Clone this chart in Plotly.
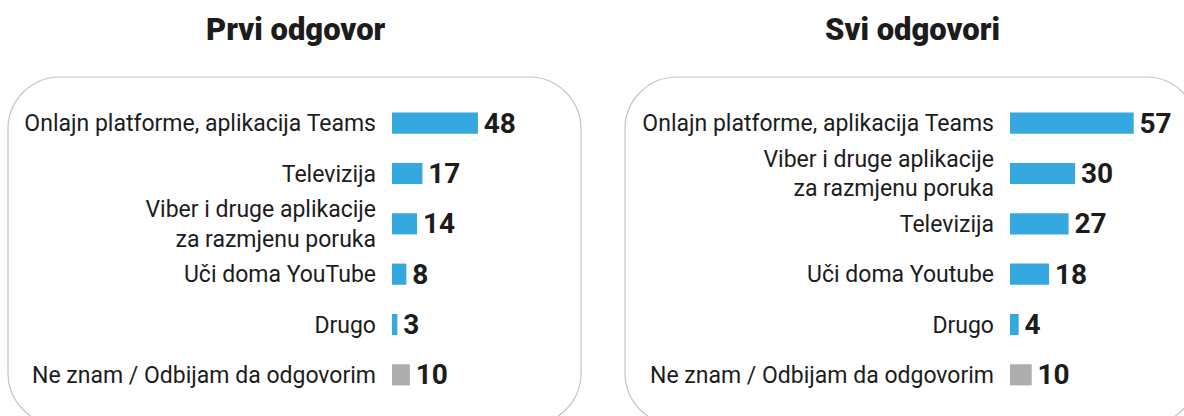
import plotly.graph_objects as go

W, H = 1184, 416

# ---- data ----
title_left = "Prvi odgovor"
cats_left = ["Onlajn platforme, aplikacija Teams", "Televizija",
             "Viber i druge aplikacije<br>za razmjenu poruka", "Uči doma YouTube",
             "Drugo", "Ne znam / Odbijam da odgovorim"]
vals_left = [48, 17, 14, 8, 3, 10]

title_right = "Svi odgovori"
cats_right = ["Onlajn platforme, aplikacija Teams",
              "Viber i druge aplikacije<br>za razmjenu poruka", "Televizija",
              "Uči doma Youtube", "Drugo", "Ne znam / Odbijam da odgovorim"]
vals_right = [57, 30, 27, 18, 4, 10]

BLUE = "#35a8e0"
GRAY = "#adadad"
TEXT = "#1c1c1c"


def colors(cats):
    return [GRAY if c.startswith("Ne znam") else BLUE for c in cats]


def px_x(p):
    return p / W


def px_y(p):
    return 1 - p / H


fig = go.Figure()

for vals, cats, xa, ya in [(vals_left, cats_left, "x", "y"), (vals_right, cats_right, "x2", "y2")]:
    fig.add_trace(go.Bar(
        x=vals, y=cats, orientation="h",
        marker=dict(color=colors(cats), line=dict(width=0)),
        text=[str(v) for v in vals], texttemplate="\u200a%{text}", textposition="outside",
        textfont=dict(family="Roboto", size=28, color=TEXT, weight="bold"),
        constraintext="none", cliponaxis=False,
        xaxis=xa, yaxis=ya, hoverinfo="skip", showlegend=False,
    ))

# pixel geometry
L0, L1 = 392, 572
R0, R1 = 1010, 1160
Y_TOP, Y_BOT = 98, 400

axis_common = dict(showgrid=False, zeroline=False, showline=False,
                   showticklabels=False, fixedrange=True)
ycommon = dict(showgrid=False, zeroline=False, showline=False,
               ticks="", ticklabelstandoff=15,
               tickfont=dict(family="Roboto", size=23, color=TEXT),
               fixedrange=True, domain=[px_y(Y_BOT), px_y(Y_TOP)])

fig.update_layout(
    width=W, height=H,
    margin=dict(l=0, r=0, t=0, b=0),
    paper_bgcolor="white", plot_bgcolor="rgba(0,0,0,0)",
    bargap=0.58,
    xaxis=dict(domain=[px_x(L0), px_x(L1)], range=[0, (L1 - L0) / 1.79], **axis_common),
    xaxis2=dict(domain=[px_x(R0), px_x(R1)], range=[0, (R1 - R0) / 2.17], **axis_common),
    yaxis=dict(anchor="x", categoryorder="array", categoryarray=cats_left,
               range=[len(cats_left) - 0.5, -0.5], **ycommon),
    yaxis2=dict(anchor="x2", categoryorder="array", categoryarray=cats_right,
                range=[len(cats_right) - 0.5, -0.5], **ycommon),
)


def rounded_box(x0, y0, x1, y1, r):
    k = 0.5523 * r
    X, Y = px_x, px_y
    p = f"M {X(x0 + r)},{Y(y0)} L {X(x1 - r)},{Y(y0)} "
    p += f"C {X(x1 - r + k)},{Y(y0)} {X(x1)},{Y(y0 + r - k)} {X(x1)},{Y(y0 + r)} "
    p += f"L {X(x1)},{Y(y1 - r)} "
    p += f"C {X(x1)},{Y(y1 - r + k)} {X(x1 - r + k)},{Y(y1)} {X(x1 - r)},{Y(y1)} "
    p += f"L {X(x0 + r)},{Y(y1)} "
    p += f"C {X(x0 + r - k)},{Y(y1)} {X(x0)},{Y(y1 - r + k)} {X(x0)},{Y(y1 - r)} "
    p += f"L {X(x0)},{Y(y0 + r)} "
    p += f"C {X(x0)},{Y(y0 + r - k)} {X(x0 + r - k)},{Y(y0)} {X(x0 + r)},{Y(y0)} Z"
    return p


for (x0, x1) in [(8, 581), (625, 1198)]:
    fig.add_shape(type="path", xref="paper", yref="paper",
                  path=rounded_box(x0, 77, x1, 425, 52),
                  line=dict(color="#c4c4c4", width=1.2), fillcolor="rgba(0,0,0,0)",
                  layer="below")

for txt, cx in [(title_left, 296), (title_right, 912)]:
    fig.add_annotation(text=txt, x=px_x(cx), y=px_y(30), xref="paper", yref="paper",
                       showarrow=False, xanchor="center", yanchor="middle",
                       font=dict(family="Roboto", size=31, color=TEXT, weight=900))

fig.write_html("out.html", config={"displayModeBar": False},
               post_script="document.body.style.margin='0';document.body.style.overflow='hidden';")
